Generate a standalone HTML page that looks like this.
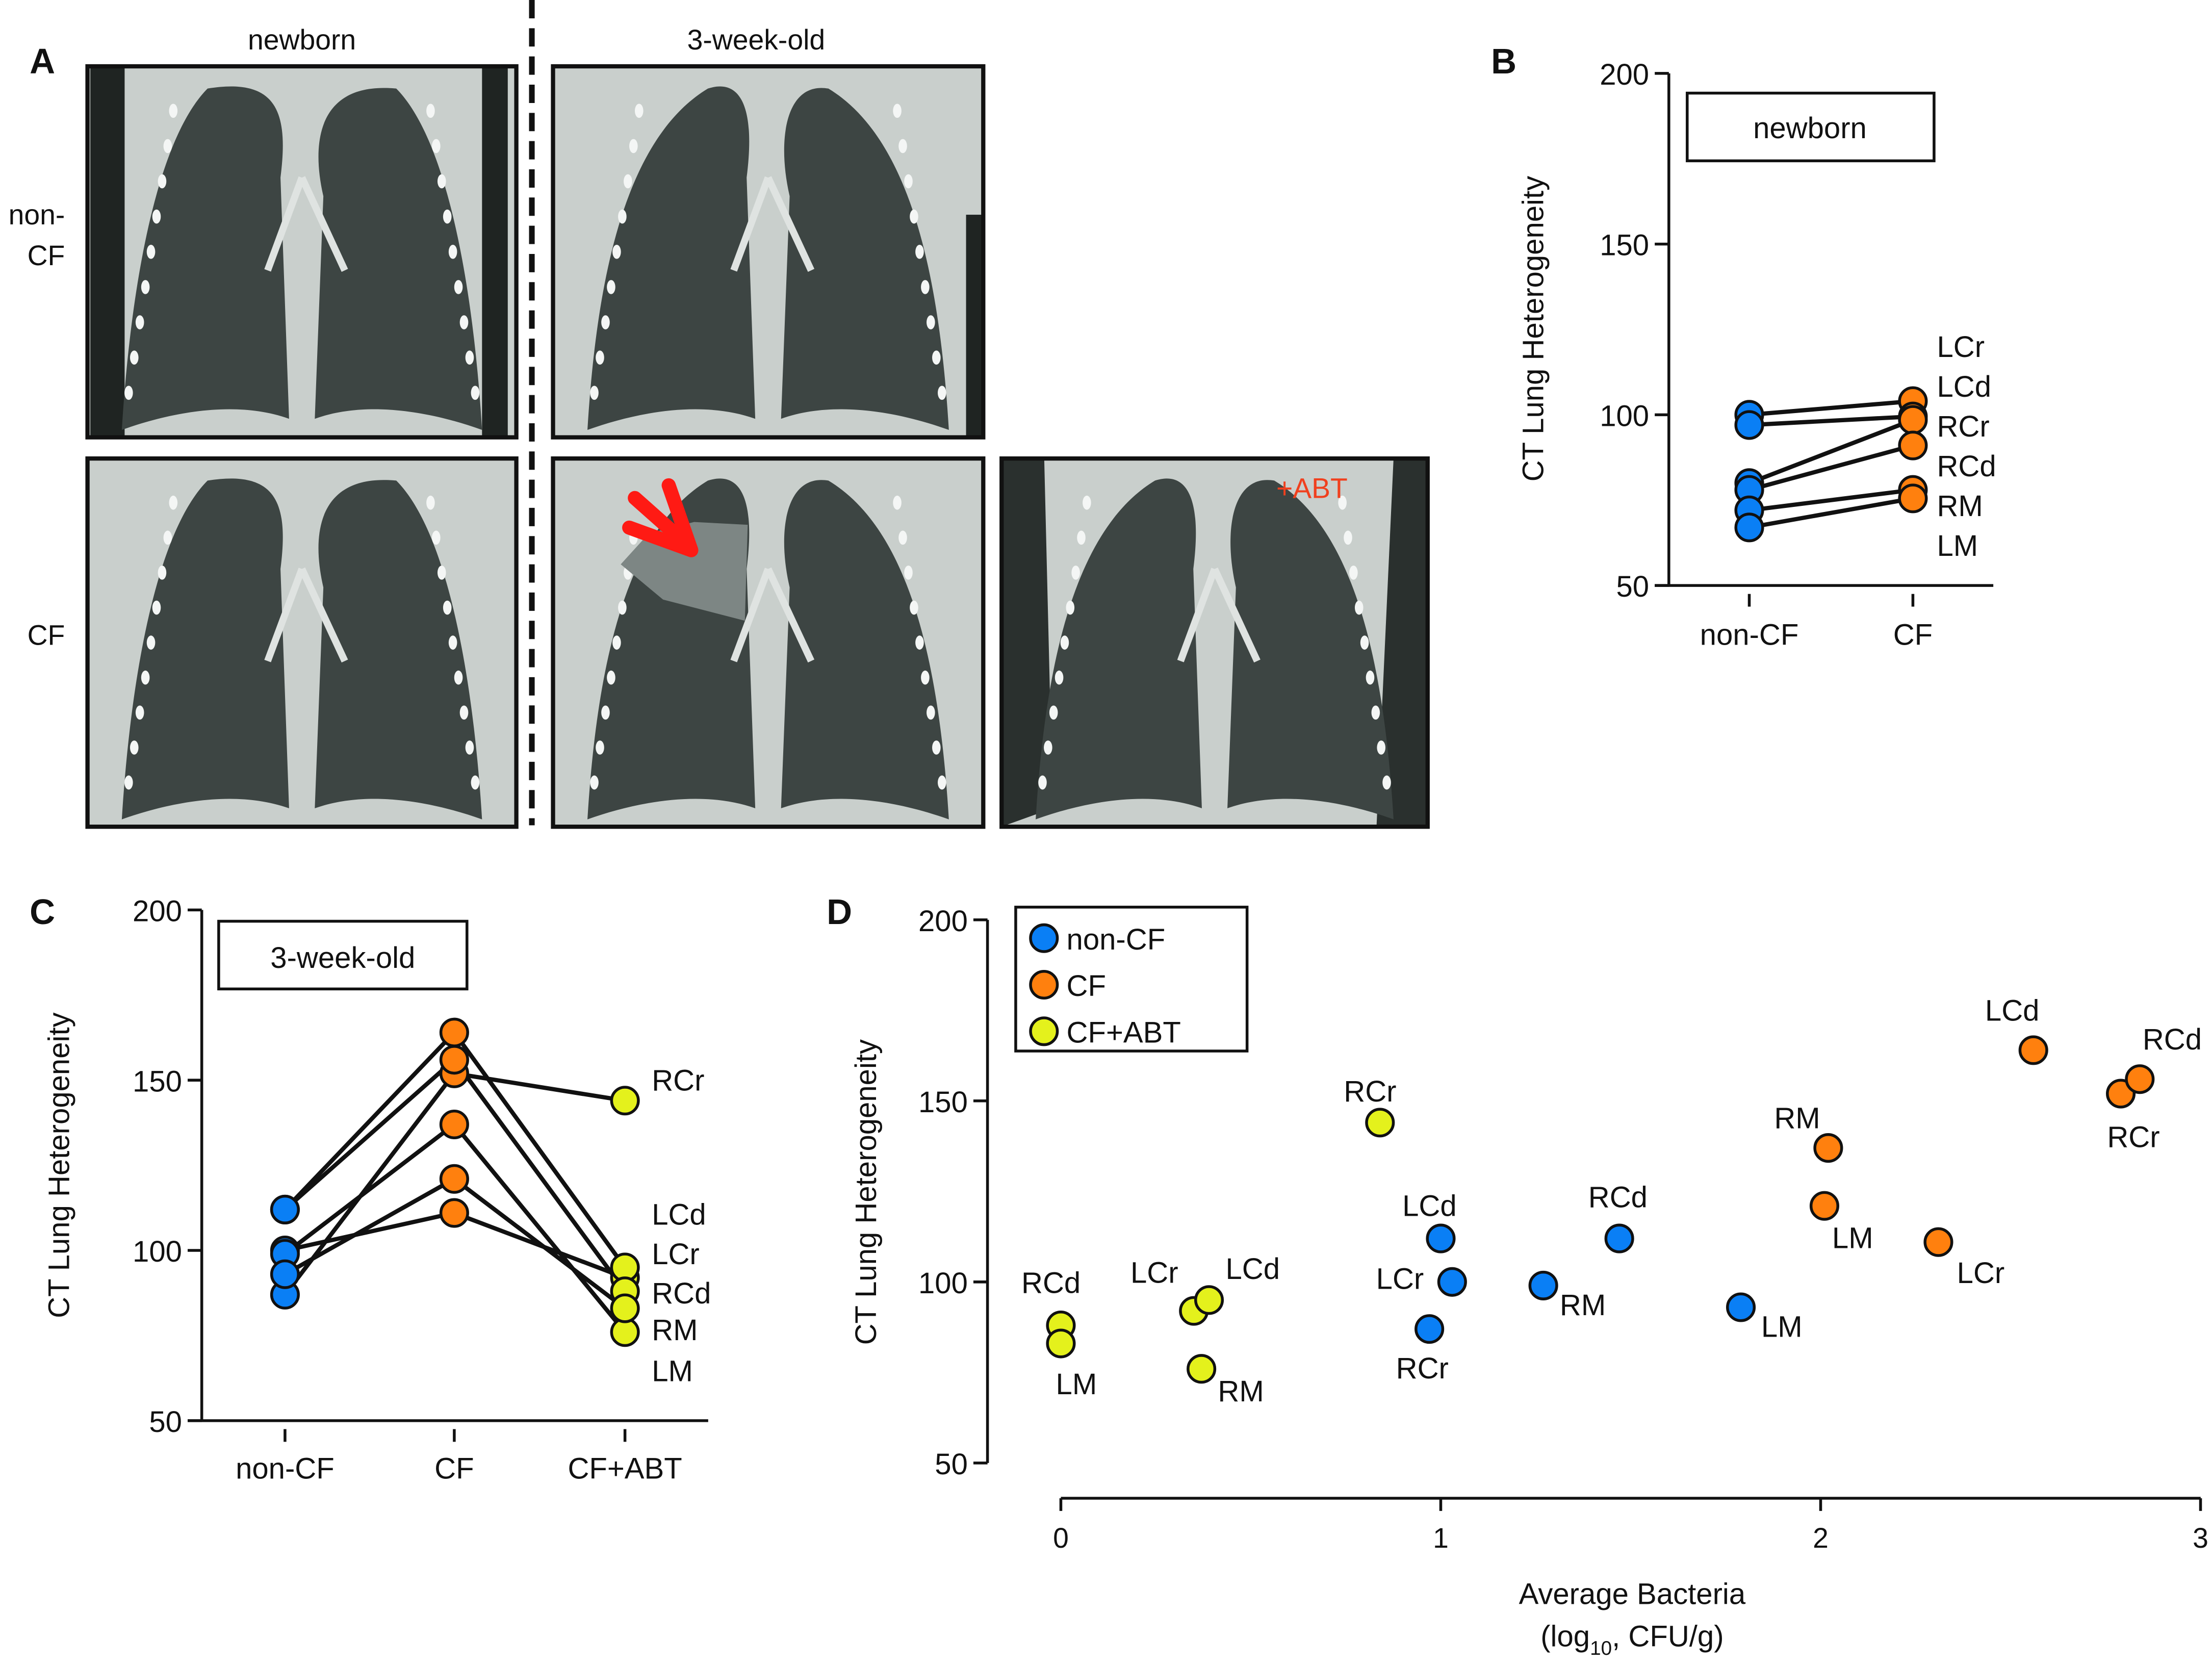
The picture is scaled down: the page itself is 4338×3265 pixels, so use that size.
<!DOCTYPE html>
<html><head><meta charset="utf-8">
<style>
html,body{margin:0;padding:0;background:#fff;}
svg{display:block;}
text{font-family:"Liberation Sans",sans-serif;fill:#111;}
</style></head>
<body>
<svg id="fig" width="4338" height="3265" viewBox="0 0 1568 1180.2" xmlns="http://www.w3.org/2000/svg">
<rect x="0" y="0" width="1568" height="1181" fill="#fff"/>
<g id="panelA"></g>
<g id="panelB"></g>
<g id="panelC"></g>
<g id="panelD"></g>
</svg>
<script>
// ---------- data ----------
const lobes = ["LCr","LCd","RCr","RCd","RM","LM"];
// Panel B (newborn)
const bNonCF = [100, 97, 80, 78, 72, 67];
const bCF    = [104, 99.5, 98.5, 91, 78, 75.5];
const bCategories = ["non-CF","CF"];
// Panel C (3-week-old), lobe order: LCr, LCd, RCr, RCd, RM, LM
const cNonCF = [100, 112, 87, 112, 99, 93];
const cCF    = [111, 164, 152, 156, 137, 121];
const cABT   = [92, 95, 144, 88, 76, 83];
const cCategories = ["non-CF","CF","CF+ABT"];
// Panel D bacteria (log10 CFU/g)
const dNonCFx = [1.03, 1.0, 0.97, 1.47, 1.27, 1.79];
const dCFx    = [2.31, 2.56, 2.79, 2.84, 2.02, 2.01];
const dABTx   = [0.35, 0.39, 0.84, 0.0, 0.37, 0.0];
const yTicks = [50, 100, 150, 200];
const xTicksD = [0, 1, 2, 3];

const NS = "http://www.w3.org/2000/svg";
const BLUE="#0a7ff5", ORANGE="#ff800e", YELLOW="#e4f11c";
function el(tag, attrs, parent, txt){
  const e=document.createElementNS(NS,tag);
  for(const k in attrs) e.setAttribute(k,attrs[k]);
  if(txt!==undefined) e.textContent=txt;
  parent.appendChild(e); return e;
}
function txt(parent,x,y,s,size,anchor,extra){
  return el("text",Object.assign({x:x,y:y,"font-size":size,"text-anchor":anchor||"middle"},extra||{}),parent,s);
}

// ---------- Panel A ----------
const A=document.getElementById("panelA");
function lungImage(x,y,w,h,name,style,tri){
  const g=el("g",{},A);
  
  
  el("rect",{x:x,y:y,width:w,height:h,fill:"#c9cfcc"},g);
  if(style==="side"){ el("rect",{x:x+2,y:y,width:w*0.08,height:h,fill:"#1f2422"},g); el("rect",{x:x+w*0.92,y:y,width:w*0.06,height:h,fill:"#1f2422"},g);}
  if(style==="sideR"){ el("rect",{x:x+w*0.96,y:y+h*0.4,width:w*0.04,height:h*0.6,fill:"#1f2422"},g);}
  if(style==="abt"){ el("polygon",{points:`${x},${y} ${x+w*0.1},${y} ${x+w*0.12},${y+h*0.95} ${x},${y+h}`,fill:"#2a302e"},g);
    el("polygon",{points:`${x+w},${y} ${x+w*0.92},${y} ${x+w*0.88},${y+h} ${x+w},${y+h}`,fill:"#2a302e"},g);}
  const L=(px,py)=>`${x+px*w},${y+py*h}`;
  const t0 = tri ? 0.36 : 0.28, t1 = tri ? 0.64 : 0.72;
  el("path",{d:`M${L(t0,0.06)} C${L(0.44,0.03)} ${L(0.47,0.12)} ${L(0.45,0.3)} L${L(0.47,0.95)} C${L(0.35,0.9)} ${L(0.2,0.93)} ${L(0.08,0.98)} C${L(0.1,0.6)} ${L(0.16,0.2)} ${L(t0,0.06)} Z`,fill:"#3d4543"},g);
  el("path",{d:`M${L(t1,0.06)} C${L(0.84,0.2)} ${L(0.9,0.6)} ${L(0.92,0.98)} C${L(0.8,0.93)} ${L(0.65,0.9)} ${L(0.53,0.95)} L${L(0.55,0.35)} C${L(0.52,0.2)} ${L(0.54,0.04)} ${L(t1,0.06)} Z`,fill:"#3d4543"},g);
  el("path",{d:`M${L(0.5,0.3)} L${L(0.42,0.55)} M${L(0.5,0.3)} L${L(0.6,0.55)}`,stroke:"#dfe3e1","stroke-width":5,fill:"none"},g);
  for(let i=0;i<9;i++){ el("ellipse",{cx:x+w*(0.2-i*0.013),cy:y+h*(0.12+i*0.095),rx:3,ry:5,fill:"#f4f6f5"},g);
    el("ellipse",{cx:x+w*(0.8+i*0.013),cy:y+h*(0.12+i*0.095),rx:3,ry:5,fill:"#f4f6f5"},g);}
  return g;
}
function frame(x,y,w,h){ el("rect",{x:x,y:y,width:w,height:h,fill:"none",stroke:"#111","stroke-width":3},A); }
lungImage(62,47,304,263,"newborn-non-cf-image","side",false); frame(62,47,304,263);
lungImage(392,47,305,263,"three-week-non-cf-image","sideR",true); frame(392,47,305,263);
lungImage(62,325,304,261,"newborn-cf-image","",false); frame(62,325,304,261);
const cfImg=lungImage(392,325,305,261,"three-week-cf-image","",true);
el("path",{d:"M492,370 L530,372 L528,440 L470,425 L440,400 L460,378 Z",fill:"#7d8684"},cfImg);
frame(392,325,305,261);
lungImage(710,325,302,261,"three-week-cf-abt-image","abt",true); frame(710,325,302,261);
const arrow=el("g",{},A);


el("path",{d:"M446,374 L490,390 M474,344 L490,390 M450,353 L486,385",stroke:"#ff1a14","stroke-width":10,fill:"none","stroke-linecap":"round","stroke-linejoin":"round"},arrow);
const dash=el("line",{x1:377,y1:0,x2:377,y2:585,stroke:"#111","stroke-width":4,"stroke-dasharray":"13,7"},A);


let t;
t=txt(A,30,52,"A",25,"middle",{"font-weight":"bold"});  
t=txt(A,214,35,"newborn",20);  
t=txt(A,536,35,"3-week-old",20);  
t=txt(A,46,159,"non-",20,"end");  
t=txt(A,46,188,"CF",20,"end");  
t=txt(A,46,457,"CF",20,"end");  
t=txt(A,930,353,"+ABT",20,"middle",{style:"fill:#f0401e"});  

// ---------- generic axis ----------
function yScale(top,bot){return v=>bot-(v-50)/150*(bot-top);}
function yAxis(g,x,top,bot,ys,titleX,titleY){
  el("line",{x1:x,y1:top,x2:x,y2:bot,stroke:"#111","stroke-width":2},g);
  yTicks.forEach(v=>{
    el("line",{x1:x-10,y1:ys(v),x2:x,y2:ys(v),stroke:"#111","stroke-width":2},g);
    const tt=txt(g,x-14,ys(v)+8,String(v),21,"end");
    
    
  });
  const tl=txt(g,titleX,titleY,"CT Lung Heterogeneity",21,"middle",{transform:`rotate(-90 ${titleX} ${titleY})`});
  
  
}
function dot(g,x,y,fill,name){
  const c=el("circle",{cx:x,cy:y,r:9.5,fill:fill,stroke:"#111","stroke-width":2},g);
  
  
}

// ---------- Panel B ----------
(function(){
  const g=document.getElementById("panelB");
  const ys=yScale(52,415);
  const xs=[1240,1356];
  yAxis(g,1183,52,415,ys,1094,233);
  el("line",{x1:1173,y1:415,x2:1413,y2:415,stroke:"#111","stroke-width":2},g);
  bCategories.forEach((c,i)=>{
    el("line",{x1:xs[i],y1:421,x2:xs[i],y2:430,stroke:"#111","stroke-width":2},g);
    const l=txt(g,xs[i],457,c,21);  
  });
  lobes.forEach((lb,i)=>{ el("line",{x1:xs[0],y1:ys(bNonCF[i]),x2:xs[1],y2:ys(bCF[i]),stroke:"#111","stroke-width":3},g);});
  lobes.forEach((lb,i)=>{ dot(g,xs[0],ys(bNonCF[i]),BLUE,"point-non-cf-"+lb.toLowerCase());});
  lobes.forEach((lb,i)=>{ dot(g,xs[1],ys(bCF[i]),ORANGE,"point-cf-"+lb.toLowerCase());});
  lobes.forEach((lb,i)=>{ const l=txt(g,1373,253+i*28.2,lb,21,"start");  });
  const box=el("rect",{x:1196,y:66,width:175,height:48,fill:"none",stroke:"#111","stroke-width":2},g);
   
  t=txt(g,1283,98,"newborn",21);  
  t=txt(g,1066,52,"B",25,"middle",{"font-weight":"bold"});  
})();

// ---------- Panel C ----------
(function(){
  const g=document.getElementById("panelC");
  const ys=yScale(645,1007);
  const xs=[202,322,443];
  yAxis(g,143,645,1007,ys,49,826);
  el("line",{x1:133,y1:1007,x2:502,y2:1007,stroke:"#111","stroke-width":2},g);
  cCategories.forEach((c,i)=>{
    el("line",{x1:xs[i],y1:1013,x2:xs[i],y2:1022,stroke:"#111","stroke-width":2},g);
    const l=txt(g,xs[i],1048,c,21);  
  });
  lobes.forEach((lb,i)=>{
    el("polyline",{points:`${xs[0]},${ys(cNonCF[i])} ${xs[1]},${ys(cCF[i])} ${xs[2]},${ys(cABT[i])}`,fill:"none",stroke:"#111","stroke-width":3},g);
  });
  lobes.forEach((lb,i)=>{ dot(g,xs[0],ys(cNonCF[i]),BLUE,"point-non-cf-"+lb.toLowerCase());});
  lobes.forEach((lb,i)=>{ dot(g,xs[1],ys(cCF[i]),ORANGE,"point-cf-"+lb.toLowerCase());});
  lobes.forEach((lb,i)=>{ dot(g,xs[2],ys(cABT[i]),YELLOW,"point-cf-abt-"+lb.toLowerCase());});
  const order=["RCr","LCd","LCr","RCd","RM","LM"], ly=[773,868,896,924,950,979];
  order.forEach((lb,i)=>{ const l=txt(g,462,ly[i],lb,21,"start");  });
  const box=el("rect",{x:155,y:653,width:176,height:48,fill:"none",stroke:"#111","stroke-width":2},g);
   
  t=txt(g,243,686,"3-week-old",21);  
  t=txt(g,30,655,"C",25,"middle",{"font-weight":"bold"});  
})();

// ---------- Panel D ----------
(function(){
  const g=document.getElementById("panelD");
  const ys=yScale(652,1037);
  const xs=v=>752+v*269.3;
  yAxis(g,700,652,1037,ys,621,845);
  el("line",{x1:752,y1:1062,x2:1560,y2:1062,stroke:"#111","stroke-width":2},g);
  xTicksD.forEach(v=>{
    el("line",{x1:xs(v),y1:1062,x2:xs(v),y2:1071,stroke:"#111","stroke-width":2},g);
    const l=txt(g,xs(v),1097,String(v),20);  
  });
  t=txt(g,1157,1137,"Average Bacteria",21);  
  const sub=el("text",{x:1157,y:1167,"font-size":21,"text-anchor":"middle"},g);
   
  sub.appendChild(document.createTextNode("(log"));
  el("tspan",{"font-size":14,dy:6},sub,"10");
  el("tspan",{dy:-6},sub,", CFU/g)");
  const series=[[dNonCFx,cNonCF,BLUE,"non-cf",[[-37,-2],[-8,-23],[-5,28],[-1,-29],[28,14],[29,14]]],
                [dCFx,cCF,ORANGE,"cf",[[30,22],[-15,-28],[9,31],[23,-28],[-22,-21],[20,23]]],
                [dABTx,cABT,YELLOW,"cf-abt",[[-28,-27],[31,-22],[-7,-22],[-7,-30],[28,16],[11,29]]]];
  series.forEach(s=>{
    lobes.forEach((lb,i)=>{
      const px=xs(s[0][i]), py=ys(s[1][i]);
      dot(g,px,py,s[2],"point-"+s[3]+"-"+lb.toLowerCase());
      const l=txt(g,px+s[4][i][0],py+s[4][i][1]+7,lb,21);
      
      
    });
  });
  const box=el("rect",{x:720,y:643,width:164,height:102,fill:"#fff",stroke:"#111","stroke-width":2},g);
   
  [["non-CF",BLUE],["CF",ORANGE],["CF+ABT",YELLOW]].forEach((e,i)=>{
    dot(g,740,665+i*33,e[1],"legend-marker");
    const l=txt(g,756,673+i*33,e[0],21,"start");  
  });
  t=txt(g,595,655,"D",25,"middle",{"font-weight":"bold"});  
})();
</script>
</body></html>
